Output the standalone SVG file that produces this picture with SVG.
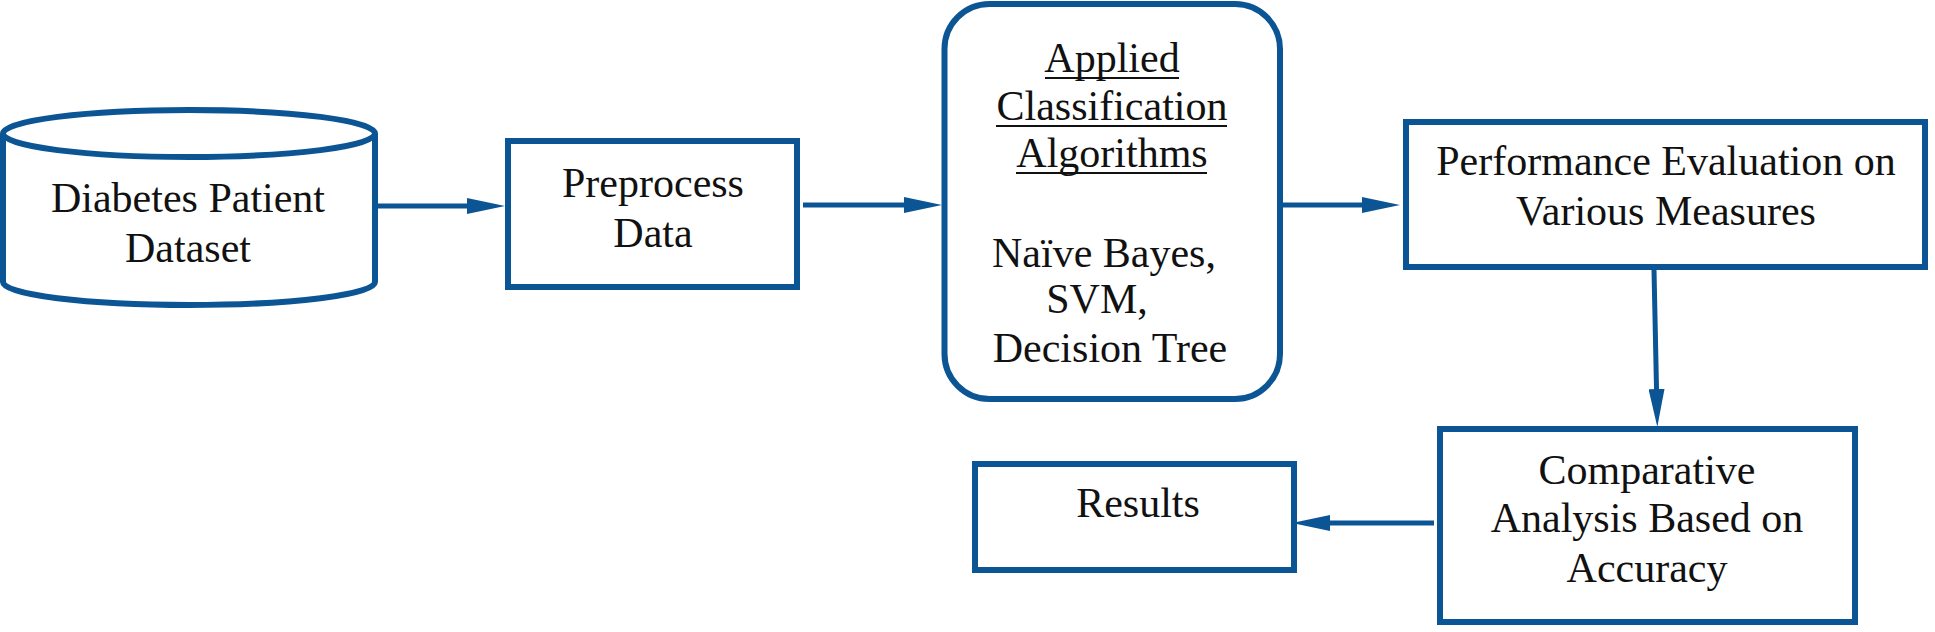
<svg xmlns="http://www.w3.org/2000/svg" width="1935" height="632" viewBox="0 0 1935 632">
  <style>
    .shape { fill: #ffffff; stroke: #0c5595; stroke-width: 6; }
    .conn { fill: none; stroke: #0c5595; stroke-width: 5; }
    .lbl { font-family: "Liberation Serif", "Times New Roman", serif; font-size: 42px; fill: #111111; text-anchor: middle; }
    .ul { stroke: #111111; stroke-width: 2; }
  </style>
  <defs>
    <marker id="ah" markerUnits="userSpaceOnUse" markerWidth="38" markerHeight="16" refX="23" refY="8" orient="auto">
      <path d="M0,0 L38,8 L0,16 z" fill="#0c5595"/>
    </marker>
  </defs>
  <rect width="1935" height="632" fill="#ffffff"/>

  <g id="connectors">
    <line class="conn" x1="378" y1="206" x2="490" y2="206" marker-end="url(#ah)"/>
    <line class="conn" x1="803" y1="205" x2="927" y2="205" marker-end="url(#ah)"/>
    <line class="conn" x1="1283" y1="205" x2="1385" y2="205" marker-end="url(#ah)"/>
    <line class="conn" x1="1654" y1="270" x2="1657" y2="412" marker-end="url(#ah)"/>
    <line class="conn" x1="1434" y1="523" x2="1307" y2="523" marker-end="url(#ah)"/>
  </g>

  <g id="dataset">
    <path class="shape" d="M3,133.5 V282 A186,23 0 0 0 375,282 V133.5"/>
    <ellipse class="shape" cx="189" cy="133.5" rx="186" ry="23.5"/>
    <text class="lbl" x="188" y="212">Diabetes Patient</text>
    <text class="lbl" x="188" y="262">Dataset</text>
  </g>

  <g id="preprocess">
    <rect class="shape" x="508" y="141" width="289" height="146"/>
    <text class="lbl" x="653" y="197">Preprocess</text>
    <text class="lbl" x="653" y="247">Data</text>
  </g>

  <g id="classification">
    <rect class="shape" x="944.5" y="4" width="335.5" height="395" rx="45" ry="45"/>
    <text class="lbl" x="1112" y="72">Applied</text>
    <line class="ul" x1="1045" y1="78" x2="1179" y2="78"/>
    <text class="lbl" x="1112" y="120">Classification</text>
    <line class="ul" x1="996" y1="126" x2="1227" y2="126"/>
    <text class="lbl" x="1112" y="167">Algorithms</text>
    <line class="ul" x1="1016" y1="173" x2="1207" y2="173"/>
    <text class="lbl" x="1104" y="267">Naïve Bayes,</text>
    <text class="lbl" x="1097" y="313">SVM,</text>
    <text class="lbl" x="1110" y="362">Decision Tree</text>
  </g>

  <g id="performance">
    <rect class="shape" x="1406" y="122" width="519" height="145"/>
    <text class="lbl" x="1666" y="175">Performance Evaluation on</text>
    <text class="lbl" x="1666" y="225">Various Measures</text>
  </g>

  <g id="comparative">
    <rect class="shape" x="1440" y="429" width="415" height="193"/>
    <text class="lbl" x="1647" y="484">Comparative</text>
    <text class="lbl" x="1647" y="532">Analysis Based on</text>
    <text class="lbl" x="1647" y="582">Accuracy</text>
  </g>

  <g id="results">
    <rect class="shape" x="975" y="464" width="319" height="106"/>
    <text class="lbl" x="1138" y="517">Results</text>
  </g>
</svg>
